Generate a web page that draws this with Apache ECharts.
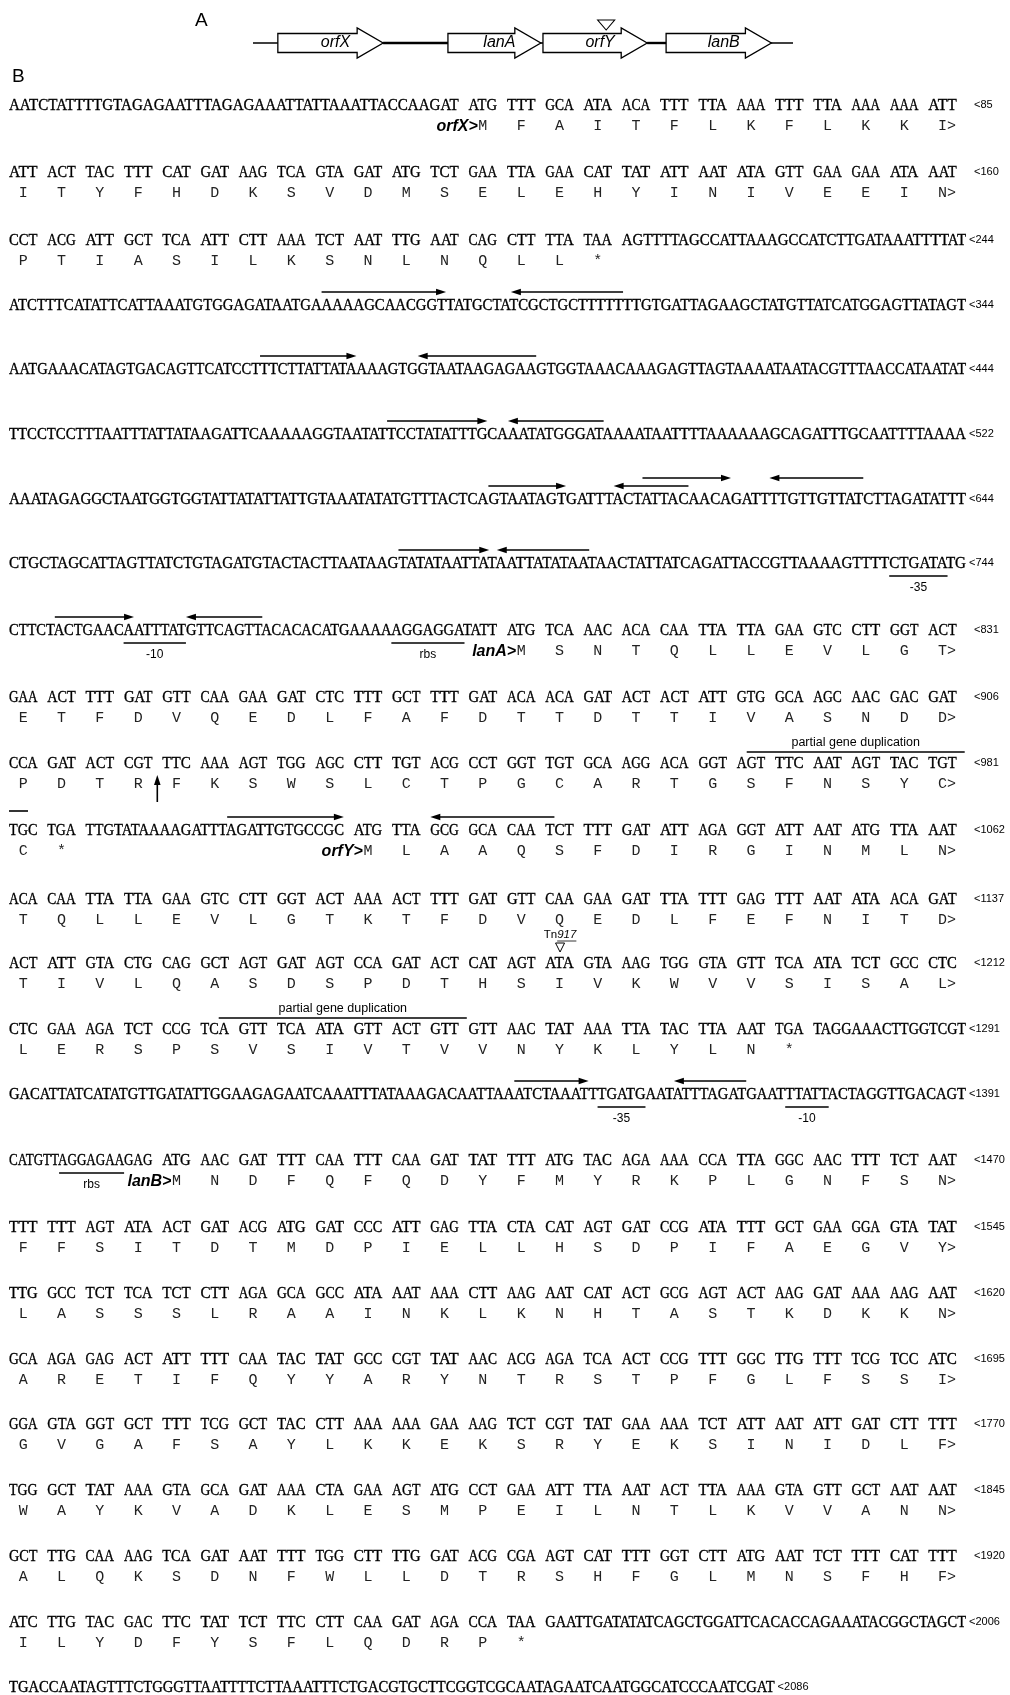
<!DOCTYPE html>
<html><head><meta charset="utf-8">
<script src="https://cdn.jsdelivr.net/npm/echarts@6/dist/echarts.min.js"></script>
<style>html,body{margin:0;padding:0;background:#fff}#c{width:1010px;height:1695px}</style>
</head><body><div id="c"></div>
<script>
// ---------------- DATA ----------------
const seqRows = [
"AATCTATTTTGTAGAGAATTTAGAGAAATTATTAAATTACCAAGAT ATG TTT GCA ATA ACA TTT TTA AAA TTT TTA AAA AAA ATT",
"ATT ACT TAC TTT CAT GAT AAG TCA GTA GAT ATG TCT GAA TTA GAA CAT TAT ATT AAT ATA GTT GAA GAA ATA AAT",
"CCT ACG ATT GCT TCA ATT CTT AAA TCT AAT TTG AAT CAG CTT TTA TAA AGTTTTAGCCATTAAAGCCATCTTGATAAATTTTAT",
"ATCTTTCATATTCATTAAATGTGGAGATAATGAAAAAGCAACGGTTATGCTATCGCTGCTTTTTTTGTGATTAGAAGCTATGTTATCATGGAGTTATAGT",
"AATGAAACATAGTGACAGTTCATCCTTTCTTATTATAAAAGTGGTAATAAGAGAAGTGGTAAACAAAGAGTTAGTAAAATAATACGTTTAACCATAATAT",
"TTCCTCCTTTAATTTATTATAAGATTCAAAAAGGTAATATTCCTATATTTGCAAATATGGGATAAAATAATTTTAAAAAAGCAGATTTGCAATTTTAAAA",
"AAATAGAGGCTAATGGTGGTATTATATTATTGTAAATATATGTTTACTCAGTAATAGTGATTTACTATTACAACAGATTTTGTTGTTATCTTAGATATTT",
"CTGCTAGCATTAGTTATCTGTAGATGTACTACTTAATAAGTATATAATTATAATTATATAATAACTATTATCAGATTACCGTTAAAAGTTTTCTGATATG",
"CTTCTACTGAACAATTTATGTTCAGTTACACACATGAAAAAGGAGGATATT ATG TCA AAC ACA CAA TTA TTA GAA GTC CTT GGT ACT",
"GAA ACT TTT GAT GTT CAA GAA GAT CTC TTT GCT TTT GAT ACA ACA GAT ACT ACT ATT GTG GCA AGC AAC GAC GAT",
"CCA GAT ACT CGT TTC AAA AGT TGG AGC CTT TGT ACG CCT GGT TGT GCA AGG ACA GGT AGT TTC AAT AGT TAC TGT",
"TGC TGA TTGTATAAAAGATTTAGATTGTGCCGC ATG TTA GCG GCA CAA TCT TTT GAT ATT AGA GGT ATT AAT ATG TTA AAT",
"ACA CAA TTA TTA GAA GTC CTT GGT ACT AAA ACT TTT GAT GTT CAA GAA GAT TTA TTT GAG TTT AAT ATA ACA GAT",
"ACT ATT GTA CTG CAG GCT AGT GAT AGT CCA GAT ACT CAT AGT ATA GTA AAG TGG GTA GTT TCA ATA TCT GCC CTC",
"CTC GAA AGA TCT CCG TCA GTT TCA ATA GTT ACT GTT GTT AAC TAT AAA TTA TAC TTA AAT TGA TAGGAAACTTGGTCGT",
"GACATTATCATATGTTGATATTGGAAGAGAATCAAATTTATAAAGACAATTAAATCTAAATTTGATGAATATTTAGATGAATTTATTACTAGGTTGACAGT",
"CATGTTAGGAGAAGAG ATG AAC GAT TTT CAA TTT CAA GAT TAT TTT ATG TAC AGA AAA CCA TTA GGC AAC TTT TCT AAT",
"TTT TTT AGT ATA ACT GAT ACG ATG GAT CCC ATT GAG TTA CTA CAT AGT GAT CCG ATA TTT GCT GAA GGA GTA TAT",
"TTG GCC TCT TCA TCT CTT AGA GCA GCC ATA AAT AAA CTT AAG AAT CAT ACT GCG AGT ACT AAG GAT AAA AAG AAT",
"GCA AGA GAG ACT ATT TTT CAA TAC TAT GCC CGT TAT AAC ACG AGA TCA ACT CCG TTT GGC TTG TTT TCG TCC ATC",
"GGA GTA GGT GCT TTT TCG GCT TAC CTT AAA AAA GAA AAG TCT CGT TAT GAA AAA TCT ATT AAT ATT GAT CTT TTT",
"TGG GCT TAT AAA GTA GCA GAT AAA CTA GAA AGT ATG CCT GAA ATT TTA AAT ACT TTA AAA GTA GTT GCT AAT AAT",
"GCT TTG CAA AAG TCA GAT AAT TTT TGG CTT TTG GAT ACG CGA AGT CAT TTT GGT CTT ATG AAT TCT TTT CAT TTT",
"ATC TTG TAC GAC TTC TAT TCT TTC CTT CAA GAT AGA CCA TAA GAATTGATATATCAGCTGGATTCACACCAGAAATACGGCTAGCT",
"TGACCAATAGTTTCTGGGTTAATTTTCTTAAATTTCTGACGTGCTTCGGTCGCAATAGAATCAATGGCATCCCAATCGAT"
];
const protRows = [
"MFAITFLKFLKKI","ITYFHDKSVDMSELEHYINIVEEIN","PTIASILKSNLNQLL*","","","","","",
"MSNTQLLEVLGT","ETFDVQEDLFAFDTTDTTIVASNDD","PDTRFKSWSLCTPGCARTGSFNSYC","C*MLAAQSFDIRGINMLN",
"TQLLEVLGTKTFDVQEDLFEFNITD","TIVLQASDSPDTHSIVKWVVSISAL","LERSPSVSIVTVVNYKLYLN*","",
"MNDFQFQDYFMYRKPLGNFSN","FFSITDTMDPIELLHSDPIFAEGVY","LASSSLRAAINKLKNHTASTKDKKN","ARETIFQYYARYNTRSTPFGLFSSI",
"GVGAFSAYLKKEKSRYEKSINIDLF","WAYKVADKLESMPEILNTLKVVANN","ALQKSDNFWLLDTRSHFGLMNSFHF","ILYDFYSFLQDRP*",""
];
const rowNumbers = ['<85','<160','<244','<344','<444','<522','<644','<744','<831','<906','<981','<1062','<1137',
  '<1212','<1291','<1391','<1470','<1545','<1620','<1695','<1770','<1845','<1920','<2006','<2086'];
// gene starts: row, codon index within the row, label
const geneStarts = [{row:0,codon:0,label:'orfX>'},{row:8,codon:0,label:'lanA>'},{row:11,codon:2,label:'orfY>'},{row:16,codon:0,label:'lanB>'}];
// inverted repeats: row, first nt, last nt (0-based within row), direction, tier
const repeats = [
 {row:3,from:33,to:44,dir:1,tier:0},{row:3,from:52,to:63,dir:-1,tier:0},
 {row:4,from:26,to:36,dir:1,tier:0},{row:4,from:43,to:54,dir:-1,tier:0},
 {row:5,from:40,to:50,dir:1,tier:0},{row:5,from:53,to:62,dir:-1,tier:0},
 {row:6,from:50,to:57,dir:1,tier:0},{row:6,from:63,to:70,dir:-1,tier:0},
 {row:6,from:66,to:74,dir:1,tier:1},{row:6,from:79,to:88,dir:-1,tier:1},
 {row:7,from:40,to:49,dir:1,tier:0},{row:7,from:51,to:60,dir:-1,tier:0},
 {row:8,from:5,to:12,dir:1,tier:0},{row:8,from:19,to:26,dir:-1,tier:0},
 {row:11,from:21,to:32,dir:1,tier:0},{row:11,from:39,to:48,dir:-1,tier:0},
 {row:15,from:53,to:60,dir:1,tier:0},{row:15,from:70,to:77,dir:-1,tier:0}
];
// underlined motifs
const motifs = [
 {row:7,from:92,to:97,label:'-35'},
 {row:8,from:12,to:18,label:'-10'},{row:8,from:40,to:46,label:'rbs'},
 {row:15,from:62,to:66,label:'-35'},{row:15,from:82,to:86,label:'-10'},
 {row:16,from:6,to:12,label:'rbs'}
];
// partial gene duplication overlines
const dupLines = [
 {row:10,from:58,to:74,label:'partial gene duplication'},
 {row:11,from:0,to:1,label:''},
 {row:14,from:17,to:35,label:'partial gene duplication'}
];
const tnSites = [{row:13,nt:43,label:'Tn',labelItalic:'917'}];
const cutSites = [{row:10,after:11}];
// panel A gene map (map units)
const mapSpan = [0,100];
const genes = [{name:'orfX',start:4.6,end:24.1},{name:'lanA',start:36.1,end:53.3},{name:'orfY',start:53.7,end:73.0},{name:'lanB',start:76.5,end:96.0}];
const mapInsertions = [65.4];

// ---------------- LAYOUT ----------------
const rowY = [106,173,241,306,370,435,500,564,631,698,764,831,900,964,1030,1095,1161,1228,1294,1360,1425,1491,1557,1623,1688];
const X0 = 9, PITCH = 38.3, CW = 28.5, GAP = PITCH - CW, NTW = 9.57, NC_RIGHT = 966, NUM_X = 974, AA_DY = 20.5;
const INK = '#000';
const NT_FONT = '16px "Liberation Serif"';
const AA_FONT = '15px "Liberation Mono"';
const LBL_FONT = 'italic bold 16px "Liberation Sans"';
const SM_FONT = '12px "Liberation Sans"';
const DUP_FONT = '12.5px "Liberation Sans"';
const NUM_FONT = '11px "Liberation Sans"';

const cv = document.createElement('canvas').getContext('2d');
function tw(t, f){ cv.font = f; return cv.measureText(t).width; }

function layoutRow(r){
  const toks = seqRows[r].split(' ');
  const nCod = toks.filter(t=>t.length===3).length;
  const pure = nCod===0, free = 25-nCod;
  let slot=0, nt=0; const segs=[];
  toks.forEach((t,i)=>{
    const x = X0 + slot*PITCH; let w;
    if (t.length===3){ w=CW; slot++; }
    else if (pure){ w=Math.min(t.length*NTW, NC_RIGHT-X0); }
    else if (i===toks.length-1){ w=NC_RIGHT-x; slot+=free; }
    else { w=free*PITCH-GAP; slot+=free; }
    segs.push({t,x,w,s:w/tw(t,NT_FONT),nt0:nt,codon:t.length===3});
    nt+=t.length;
  });
  return segs;
}
const layouts = seqRows.map((_,r)=>layoutRow(r));
function ntEdge(r,j,right){
  for (const g of layouts[r]){
    if (j>=g.nt0 && j<g.nt0+g.t.length){ const k=j-g.nt0+(right?1:0); return g.x+tw(g.t.slice(0,k),NT_FONT)*g.s; }
  }
  return null;
}
function txt(p,t,font,align,sx,fill,bold){
  const st = {text:t,font:font,fill:fill||INK,align:align,verticalAlign:'middle',textAlign:align,textVerticalAlign:'middle'};
  if (bold){ st.stroke = fill||INK; st.lineWidth = bold; }
  return {type:'text',x:p[0],y:p[1],scaleX:sx||1,style:st};
}
function hline(a,b,lw){ return {type:'line',shape:{x1:a[0],y1:a[1],x2:b[0],y2:b[1]},style:{stroke:INK,lineWidth:lw||1.5}}; }

function renderRow(params, api){
  const r = api.value(0), y = rowY[r], segs = layouts[r], ch = [];
  const C = (x,yy)=>api.coord([x,yy]);
  segs.forEach(g=>ch.push(txt(C(g.x,y),g.t,NT_FONT,'left',g.s,INK,0.35)));
  // protein
  const aa = protRows[r]; const codons = segs.filter(g=>g.codon);
  codons.forEach((g,i)=>{
    if (i>=aa.length) return;
    const cx = g.x+CW/2;
    ch.push(txt(C(cx,y+AA_DY),aa[i],AA_FONT,'center',1,'#222'));
    if (i===aa.length-1 && aa[i]!=='*') ch.push(txt(C(cx+4.5,y+AA_DY),'>',AA_FONT,'left',1,'#222'));
  });
  geneStarts.filter(s=>s.row===r).forEach(s=>{
    const g = codons[s.codon];
    ch.push(txt(C(g.x+CW/2-5,y+AA_DY),s.label,LBL_FONT,'right'));
  });
  // number
  const last = segs[segs.length-1];
  const nx = last.codon ? NUM_X : last.x+last.w+3;
  ch.push(txt(C(nx,y-1),rowNumbers[r],NUM_FONT,'left'));
  // repeats
  repeats.filter(a=>a.row===r).forEach(a=>{
    const x1 = ntEdge(r,a.from,false), x2 = ntEdge(r,a.to,true);
    const yy = y-14-(a.tier?8:0);
    const p1 = C(x1,yy), p2 = C(x2,yy);
    const tip = a.dir>0?p2:p1, tail = a.dir>0?p1:p2;
    ch.push(hline([tail[0],yy],[tip[0]-a.dir*8,yy],1.6));
    ch.push({type:'polygon',shape:{points:[[tip[0],tip[1]],[tip[0]-a.dir*10,tip[1]-3.3],[tip[0]-a.dir*10,tip[1]+3.3]]},style:{fill:INK}});
  });
  motifs.filter(m=>m.row===r).forEach(m=>{
    const x1 = ntEdge(r,m.from,false), x2 = ntEdge(r,m.to,true);
    ch.push(hline(C(x1,y+12),C(x2,y+12),1.5));
    ch.push(txt(C((x1+x2)/2,y+24),m.label,SM_FONT,'center'));
  });
  dupLines.filter(d=>d.row===r).forEach(d=>{
    const x1 = ntEdge(r,d.from,false), x2 = ntEdge(r,d.to,true)+(d.label?8:0);
    const dy = d.label ? -12 : -20;
    ch.push(hline(C(x1,y+dy),C(x2,y+dy),1.6));
    if (d.label) ch.push(txt(C((x1+x2)/2,y-21),d.label,DUP_FONT,'center'));
  });
  tnSites.filter(t=>t.row===r).forEach(t=>{
    const cx = (ntEdge(r,t.nt,false)+ntEdge(r,t.nt,true))/2;
    const p = C(cx,y);
    ch.push({type:'polygon',shape:{points:[[p[0]-4.5,p[1]-21],[p[0]+4.5,p[1]-21],[p[0],p[1]-12]]},style:{fill:'#fff',stroke:INK,lineWidth:1}});
    const f1='11.5px "Liberation Sans"', f2='italic 11.5px "Liberation Sans"';
    const w1=tw(t.label,f1), w2=tw(t.labelItalic,f2), x0=p[0]-(w1+w2)/2;
    ch.push(txt([x0,p[1]-29],t.label,f1,'left'));
    ch.push(txt([x0+w1,p[1]-29],t.labelItalic,f2,'left'));
    ch.push(hline([x0+w1,p[1]-23],[x0+w1+w2,p[1]-23],0.8));
  });
  cutSites.filter(c=>c.row===r).forEach(c=>{
    const cx = (ntEdge(r,c.after,true)+ntEdge(r,c.after+1,false))/2;
    const p = C(cx,y);
    ch.push(hline([p[0],p[1]+20],[p[0],p[1]+38],1.6));
    ch.push({type:'polygon',shape:{points:[[p[0],p[1]+11],[p[0]-3.3,p[1]+21],[p[0]+3.3,p[1]+21]]},style:{fill:INK}});
  });
  return {type:'group',children:ch};
}

function renderGene(params, api){
  const s = api.coord([api.value(0),0]), e = api.coord([api.value(1),0]);
  const y = s[1], HL=26, BH=9.5, HH=15;
  const pts = [[s[0],y-BH],[e[0]-HL,y-BH],[e[0]-HL,y-HH],[e[0],y],[e[0]-HL,y+HH],[e[0]-HL,y+BH],[s[0],y+BH]];
  const g = genes[params.dataIndex];
  return {type:'group',children:[
    {type:'polygon',shape:{points:pts},style:{fill:'#fff',stroke:INK,lineWidth:1.3}},
    txt([(s[0]+e[0])/2+5,y],g.name,'italic 16px "Liberation Sans"','center')
  ]};
}
function renderBackbone(params, api){
  const a = api.coord([mapSpan[0],0]), b = api.coord([mapSpan[1],0]);
  const t1 = api.coord([genes[0].end,0]), t2 = api.coord([genes[1].start,0]);
  const t3 = api.coord([genes[2].end,0]), t4 = api.coord([genes[3].start,0]);
  return {type:'group',children:[hline(a,b,1.3),hline(t1,t2,2.4),hline(t3,t4,2.4)]};
}
function renderIns(params, api){
  const p = api.coord([api.value(0),0]);
  return {type:'polygon',shape:{points:[[p[0]-8.5,p[1]-23],[p[0]+8.5,p[1]-23],[p[0],p[1]-13]]},style:{fill:'#fff',stroke:INK,lineWidth:1.1}};
}

const chart = echarts.init(document.getElementById('c'),null,{renderer:'canvas'});
chart.setOption({
  animation:false,
  grid:[{left:0,top:0,right:0,bottom:0},{left:253,width:540,top:23,height:40}],
  xAxis:[{type:'value',min:0,max:1010,show:false,gridIndex:0},{type:'value',min:mapSpan[0],max:mapSpan[1],show:false,gridIndex:1}],
  yAxis:[{type:'value',min:0,max:1695,inverse:true,show:false,gridIndex:0},{type:'value',min:-1,max:1,show:false,gridIndex:1}],
  graphic:[
    {type:'text',left:195,top:11,style:{text:'A',font:'19px "Liberation Sans"',fill:INK}},
    {type:'text',left:12,top:67,style:{text:'B',font:'19px "Liberation Sans"',fill:INK}}
  ],
  series:[
    {type:'custom',xAxisIndex:0,yAxisIndex:0,silent:true,data:seqRows.map((_,i)=>[i,rowY[i]]),renderItem:renderRow},
    {type:'custom',xAxisIndex:1,yAxisIndex:1,silent:true,data:[[mapSpan[0],0]],renderItem:renderBackbone},
    {type:'custom',xAxisIndex:1,yAxisIndex:1,silent:true,data:genes.map(g=>[g.start,g.end]),renderItem:renderGene},
    {type:'custom',xAxisIndex:1,yAxisIndex:1,silent:true,data:mapInsertions.map(v=>[v,0]),renderItem:renderIns}
  ]
});
</script></body></html>
